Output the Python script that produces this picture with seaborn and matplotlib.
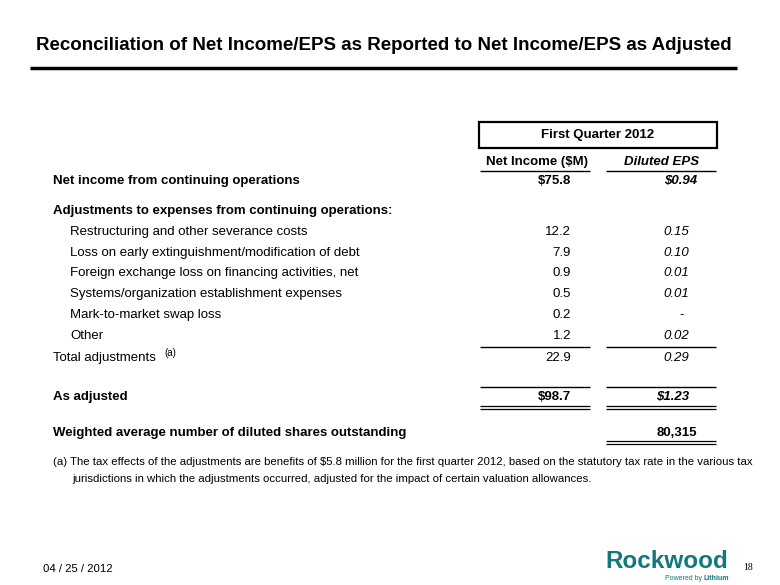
import matplotlib.pyplot as plt
import seaborn as sns

## DATA
title = "Reconciliation of Net Income/EPS as Reported to Net Income/EPS as Adjusted"
period = "First Quarter 2012"
col_headers = ["Net Income ($M)", "Diluted EPS"]

row_labels = [
    "Net income from continuing operations",
    "Adjustments to expenses from continuing operations:",
    "Restructuring and other severance costs",
    "Loss on early extinguishment/modification of debt",
    "Foreign exchange loss on financing activities, net",
    "Systems/organization establishment expenses",
    "Mark-to-market swap loss",
    "Other",
    "Total adjustments",
    "As adjusted",
    "Weighted average number of diluted shares outstanding",
]
net_income = ["$75.8", "", "12.2", "7.9", "0.9", "0.5", "0.2", "1.2", "22.9", "$98.7", ""]
diluted_eps = ["$0.94", "", "0.15", "0.10", "0.01", "0.01", "-", "0.02", "0.29", "$1.23", "80,315"]
bold_rows = [True, True, False, False, False, False, False, False, False, True, True]
indented = [False, False, True, True, True, True, True, True, False, False, False]

footnote = ["(a) The tax effects of the adjustments are benefits of $5.8 million for the first quarter 2012, based on the statutory tax rate in the various tax",
            "jurisdictions in which the adjustments occurred, adjusted for the impact of certain valuation allowances."]
date_label = "04 / 25 / 2012"
page_no = "18"

## LAYOUT (pixel coordinates)
row_y = [181, 211, 232, 253, 273, 294, 315, 336, 358, 397, 433]
col1 = (480, 590)
col2 = (606, 716)

sns.set_theme(style="white")
plt.rcParams['font.family'] = ['Liberation Sans', 'DejaVu Sans']
plt.rcParams['text.color'] = 'black'

fig = plt.figure(figsize=(7.8, 5.85), dpi=100)
ax = fig.add_axes([0, 0, 1, 1])
ax.set_xlim(0, 780)
ax.set_ylim(585, 0)
ax.axis("off")

# title + rule
ax.text(384, 45, title, ha="center", va="center", fontsize=13.5, fontweight="bold")
ax.hlines(68, 30, 737, color="black", lw=2.5)

# header box
ax.add_patch(plt.Rectangle((479, 122), 238, 26, fill=False, lw=1.6, ec="black"))
ax.text(598, 135, period, ha="center", va="center", fontsize=9.5, fontweight="bold")
ax.text(537, 162, col_headers[0], ha="center", va="center", fontsize=9.5, fontweight="bold")
ax.text(662, 162, col_headers[1], ha="center", va="center", fontsize=9.5, fontweight="bold", style="italic")
ax.hlines(171, *col1, color="black", lw=1)
ax.hlines(171, *col2, color="black", lw=1)

# rows
for lbl, v1, v2, y, b, ind in zip(row_labels, net_income, diluted_eps, row_y, bold_rows, indented):
    w = "bold" if b else "normal"
    ax.text(70 if ind else 53, y, lbl, ha="left", va="center", fontsize=9.5, fontweight=w)
    if v1:
        ax.text(571, y, v1, ha="right", va="center", fontsize=9.5, fontweight=w)
    if v2:
        if v2[0].isdigit() and "," in v2:
            ax.text(697, y, v2, ha="right", va="center", fontsize=9.5, fontweight="bold")
        elif v2 == "-":
            ax.text(684, y, v2, ha="right", va="center", fontsize=9.5)
        else:
            xr = 697 if y == row_y[0] else 689
            ax.text(xr, y, v2, ha="right", va="center", fontsize=9.5, fontweight=w, style="italic")

# superscript on total adjustments
ax.text(164, 353, "(a)", ha="left", va="center", fontsize=7)

# rules
for c in (col1, col2):
    ax.hlines(347, *c, color="black", lw=1)
    ax.hlines(387, *c, color="black", lw=1)
    ax.hlines([406, 409], *c, color="black", lw=0.9)
ax.hlines([441, 444], *col2, color="black", lw=0.9)

# footnote
ax.text(53, 462, footnote[0], ha="left", va="center", fontsize=8.2)
ax.text(72, 479, footnote[1], ha="left", va="center", fontsize=8.2)

# footer
ax.text(43, 569, date_label, ha="left", va="center", fontsize=8.2)
ax.text(667, 562, "Rockwood", ha="center", va="center", fontsize=17.5, fontweight="bold",
        color="#13777e")
ax.text(704, 578, "Powered by ", ha="right", va="center", fontsize=5, color="#13777e")
ax.text(704, 578, "Lithium", ha="left", va="center", fontsize=5, fontweight="bold", color="#13777e")
ax.text(748, 568, page_no, ha="center", va="center", fontsize=7, family=['Liberation Serif'])

fig.savefig("out.png", dpi=100)
